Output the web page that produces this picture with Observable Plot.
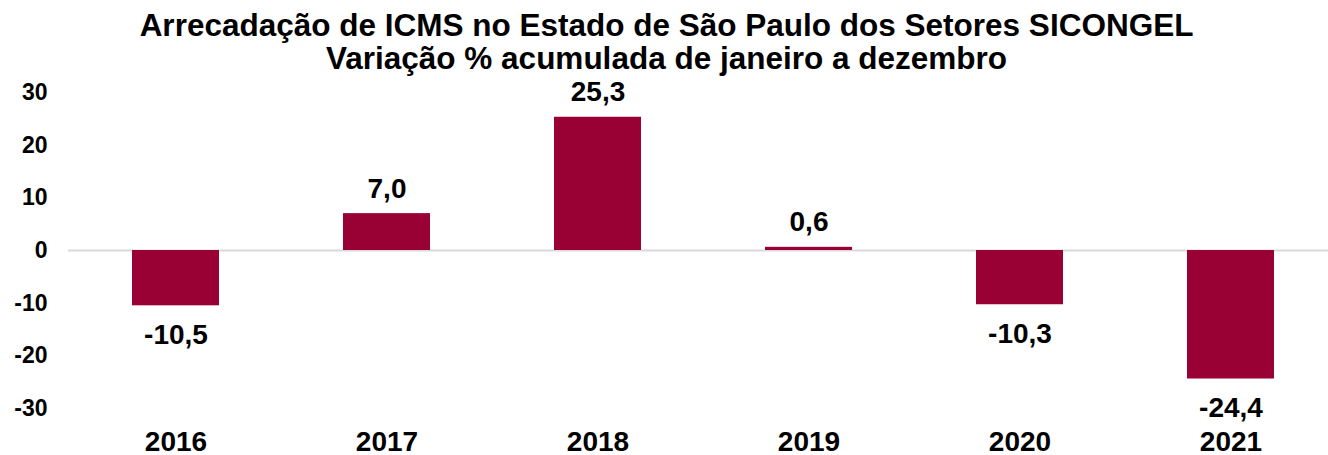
<!DOCTYPE html>
<html><head><meta charset="utf-8">
<script src="https://cdn.jsdelivr.net/npm/d3@7"></script>
<script src="https://cdn.jsdelivr.net/npm/@observablehq/plot@0.6"></script>
<style>body{margin:0;background:#fff;}</style>
</head><body><div id="chart"></div>
<script>
const years = ["2016", "2017", "2018", "2019", "2020", "2021"];
const values = [-10.5, 7.0, 25.3, 0.6, -10.3, -24.4];
const yTicks = [-30, -20, -10, 0, 10, 20, 30];
const titleLines = [
  "Arrecadação de ICMS no Estado de São Paulo dos Setores SICONGEL",
  "Variação % acumulada de janeiro a dezembro"
];

const data = years.map((year, i) => ({
  year,
  value: values[i],
  label: values[i].toFixed(1).replace(".", ",")
}));

const font = "'Liberation Sans', Arial, sans-serif";

const chart = Plot.plot({
  width: 1328,
  height: 455,
  marginLeft: 68,
  marginRight: 0,
  marginTop: 92,
  marginBottom: 47,
  style: {fontFamily: font, fontWeight: "bold", color: "#000", background: "#fff", overflow: "visible"},
  x: {domain: years, range: [68, 1338], paddingInner: 0.59, paddingOuter: 0.295, align: 0.5, label: null},
  y: {domain: [-30, 30], label: null},
  marks: [
    Plot.ruleY([0], {stroke: "#d9d9d9", strokeWidth: 2}),
    Plot.barY(data, {x: "year", y: "value", fill: "#990033"}),
    Plot.text(data.filter(d => d.value >= 0), {x: "year", y: "value", text: "label", dy: -16, lineAnchor: "bottom", fontSize: 28, fontWeight: "bold", fill: "#000"}),
    Plot.text(data.filter(d => d.value < 0), {x: "year", y: "value", text: "label", dy: 18, lineAnchor: "top", fontSize: 28, fontWeight: "bold", fill: "#000"}),
    Plot.axisY({ticks: yTicks, tickSize: 0, tickPadding: 21, fontSize: 23, tickFormat: d => String(d), label: null}),
    Plot.axisX({tickSize: 0, tickPadding: 23, fontSize: 28, label: null}),
    Plot.text([titleLines[0]], {frameAnchor: "top", dx: -32, dy: -57, lineAnchor: "bottom", fontSize: 31.5, fontWeight: "bold", fill: "#000"}),
    Plot.text([titleLines[1]], {frameAnchor: "top", dx: -32, dy: -24, lineAnchor: "bottom", fontSize: 31.5, fontWeight: "bold", fill: "#000"})
  ]
});
document.getElementById("chart").appendChild(chart);
</script>
</body></html>
